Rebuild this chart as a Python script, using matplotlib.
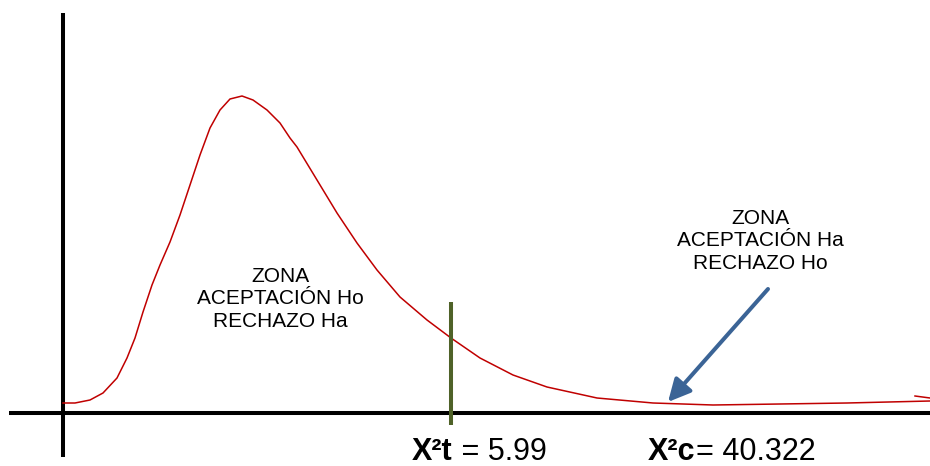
import matplotlib
matplotlib.use("Agg")
import matplotlib.pyplot as plt

# curve (x right of the vertical axis, y above the baseline)
curve_x = [0, 12, 27, 40, 54, 64, 72, 80, 89, 97, 107, 117, 127, 137, 147, 157,
           167, 179, 190, 204, 217, 227, 234, 254, 274, 294, 314, 337, 364, 388,
           417, 450, 484, 534, 590, 650, 717, 784, 867]
curve_y = [10, 10, 13, 20, 35, 55, 75, 101, 128, 148, 171, 198, 228, 258, 285, 303,
           314, 317, 313, 303, 290, 275, 266, 233, 200, 170, 143, 116, 93, 75,
           55, 38, 26, 15, 10, 8, 9, 10, 12]
hook_x = [852, 867]
hook_y = [17, 15]

x2_tabla = 388      # position of X2t = 5.99
x2_calc = 605       # arrow tip, X2c = 40.322
label_t = ("X²t", " = 5.99")
label_c = ("X²c", "= 40.322")
zona_ho = "ZONA\nACEPTACIÓN Ho\nRECHAZO Ha"
zona_ha = "ZONA\nACEPTACIÓN Ha\nRECHAZO Ho"

FONT = "Liberation Sans"

fig = plt.figure(figsize=(9.3, 4.66), dpi=100)
ax = fig.add_axes([0, 0, 1, 1])
ax.set_xlim(-63, 867)
ax.set_ylim(-53, 413)
ax.axis("off")

# axes
ax.plot([0, 0], [400, -44], color="black", lw=2.9, solid_capstyle="butt")
ax.plot([-54, 867], [0, 0], color="black", lw=2.9, solid_capstyle="butt")

# distribution
ax.plot(curve_x, curve_y, color="#C00000", lw=1.1)
ax.plot(hook_x, hook_y, color="#C00000", lw=1.1)

# critical value
ax.plot([x2_tabla, x2_tabla], [111, -12], color="#4F6228", lw=2.9,
        solid_capstyle="butt")

# arrow to the calculated value
ax.annotate("", xy=(x2_calc, 11), xytext=(x2_calc + 100, 124),
            arrowprops=dict(arrowstyle="-|>,head_length=0.9,head_width=0.45",
                            color="#3B6496", lw=2.9, mutation_scale=15,
                            shrinkA=0, shrinkB=0))

# baseline given is the one of the last line
ax.text(217, 86, zona_ho, ha="center", va="baseline", multialignment="center",
        fontsize=15, family=FONT, linespacing=1.25)
ax.text(697, 144, zona_ha, ha="center", va="baseline", multialignment="center",
        fontsize=15, family=FONT, linespacing=1.25)

for x0, (bold, rest) in [(349, label_t), (585, label_c)]:
    t = ax.text(x0, -47, bold, ha="left", va="baseline", fontsize=22,
                family=FONT, fontweight="bold")
    ax.annotate(rest, xy=(1, 0), xycoords=t, ha="left", va="bottom",
                fontsize=22, family=FONT)

fig.savefig("out.png", dpi=100)
